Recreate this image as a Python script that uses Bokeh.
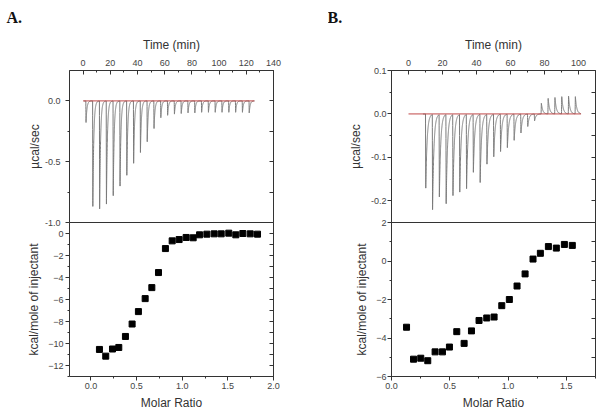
import numpy as np
from bokeh.plotting import figure
from bokeh.models import (LinearAxis, Range1d, SingleIntervalTicker, NumeralTickFormatter,
                          CustomLabelingPolicy)
from bokeh.layouts import row, column
from bokeh.embed import file_html
from bokeh.resources import INLINE

# ---------------- data ----------------
# Panel A: raw ITC trace (injection times in min, peak heights in ucal/sec)
a_inj_time = [2, 7, 12, 17, 22, 27, 32, 37, 42, 47, 52, 57, 62, 67, 72, 77, 82, 87,
              92, 97, 102, 107, 112, 117, 122]
a_peak = [-0.18, -0.88, -0.90, -0.86, -0.79, -0.71, -0.62, -0.52, -0.43, -0.34, -0.23,
          -0.14, -0.12, -0.11, -0.105, -0.10, -0.10, -0.095, -0.095, -0.095, -0.095,
          -0.095, -0.095, -0.095, -0.10]
a_trace_span = [0.5, 126]
a_baseline = [0, 126]
# Panel A: integrated heats
a_ratio = [0.093, 0.162, 0.236, 0.305, 0.378, 0.451, 0.52, 0.594, 0.667, 0.74, 0.816,
           0.89, 0.966, 1.043, 1.12, 1.19, 1.27, 1.35, 1.427, 1.51, 1.587, 1.664,
           1.745, 1.825]
a_heat = [-10.54, -11.15, -10.5, -10.36, -9.36, -8.23, -7.1, -5.92, -4.92, -3.55, -1.37,
          -0.67, -0.55, -0.36, -0.39, -0.12, -0.06, -0.03, -0.03, 0.03, -0.12, 0.0,
          -0.03, -0.06]

# Panel B: raw ITC trace
b_inj_time = [10, 14, 18, 22, 26, 30, 34, 38, 42, 46, 50, 54, 58, 62, 66, 70, 74, 78,
              82, 86, 90, 94, 98]
b_peak = [-0.173, -0.222, -0.192, -0.208, -0.189, -0.181, -0.173, -0.135, -0.159, -0.116,
          -0.099, -0.087, -0.078, -0.061, -0.044, -0.029, -0.016, 0.025, 0.036, 0.038,
          0.040, 0.041, 0.040]
b_trace_span = [8.5, 101.5]
b_baseline = [0, 101.5]
# Panel B: integrated heats
b_ratio = [0.129, 0.189, 0.251, 0.311, 0.374, 0.437, 0.497, 0.56, 0.623, 0.686, 0.751,
           0.817, 0.88, 0.946, 1.011, 1.077, 1.146, 1.214, 1.277, 1.346, 1.414, 1.483,
           1.551]
b_heat = [-3.44, -5.1, -5.05, -5.18, -4.72, -4.72, -4.47, -3.67, -4.28, -3.63, -3.09,
          -2.96, -2.91, -2.32, -2.0, -1.3, -0.67, 0.1, 0.4, 0.75, 0.67, 0.86, 0.81]

panel_names = ["A.", "B."]

SANS = "Liberation Sans"
INK = "#333333"
TICKC = "#444444"
TRACE = "#7a7a7a"
BASE = "#c04848"

HIDE = CustomLabelingPolicy(code="for (const i of Array.from(indices)) { indices.unset(i) } return indices")


def thermogram(span, inj_t, amp, rise, tau):
    t = np.arange(span[0], span[1], 0.02)
    y = np.zeros_like(t)
    for ti, a in zip(inj_t, amp):
        dt = t - ti
        r = (dt >= 0) & (dt < rise)
        y[r] += a * dt[r] / rise
        d = dt >= rise
        y[d] += a * np.exp(-(dt[d] - rise) / tau)
    return t, y


def fig(w, h, xr, yr, bl, br, bt, bb, transparent_border=False):
    p = figure(width=w, height=h, x_range=Range1d(*xr), y_range=Range1d(*yr),
               x_axis_location=None, y_axis_location=None,
               output_backend="svg", toolbar_location=None,
               min_border_left=bl, min_border_right=br,
               min_border_top=bt, min_border_bottom=bb)
    p.grid.visible = False
    p.outline_line_color = INK
    p.outline_line_width = 1
    p.background_fill_color = "white"
    p.border_fill_color = "white"
    if transparent_border:
        p.border_fill_alpha = 0
    return p


def heading(p, text, offset):
    p.title.text = text
    p.title.text_font = "Liberation Serif"
    p.title.text_font_size = "16px"
    p.title.text_font_style = "bold"
    p.title.text_color = "#111111"
    p.title.align = "left"
    p.title.offset = offset
    p.title.vertical_align = "top"
    p.title.standoff = 14


def axis(p, side, interval, minor, label=None, inside=False, fmt=None,
         standoff=5, label_standoff=5, show_labels=True, bounds=None):
    ax = LinearAxis(ticker=SingleIntervalTicker(interval=interval, num_minor_ticks=minor))
    ax.axis_line_color = None
    ax.major_tick_line_color = INK
    ax.minor_tick_line_color = INK
    if bounds is not None:
        ax.bounds = bounds
    if inside:
        ax.major_tick_in, ax.major_tick_out = 4, 0
        ax.minor_tick_in, ax.minor_tick_out = 2, 0
    else:
        ax.major_tick_in, ax.major_tick_out = 0, 4
        ax.minor_tick_in, ax.minor_tick_out = 0, 2
    if fmt is not None:
        ax.formatter = NumeralTickFormatter(format=fmt)
    ax.major_label_text_font = SANS
    ax.major_label_text_color = TICKC
    ax.major_label_standoff = standoff
    if show_labels:
        ax.major_label_text_font_size = "9px"
    else:
        ax.major_label_text_font_size = "1px"
        ax.major_label_standoff = 0
        ax.major_label_policy = HIDE
    if label:
        ax.axis_label = label
        ax.axis_label_text_font = SANS
        ax.axis_label_text_font_size = "12px"
        ax.axis_label_text_font_style = "normal"
        ax.axis_label_text_color = INK
        ax.axis_label_standoff = label_standoff
    p.add_layout(ax, side)
    return ax


# ---------------- Panel A ----------------
a_up = fig(328, 230, (-10, 140), (-1.0, 0.25), 69, 55, 70, 8)
axis(a_up, "above", 20, 2, "Time (min)", inside=True, standoff=5, label_standoff=5)
axis(a_up, "left", 0.5, 2, "µcal/sec", fmt="0.0", standoff=5, label_standoff=0,
     bounds=(-1.0, 0.11))
axis(a_up, "right", 0.25, 0, inside=True, show_labels=False)
heading(a_up, panel_names[0], -63)
ta, ya = thermogram(a_trace_span, a_inj_time, a_peak, 0.15, 0.7)
a_up.line(ta, ya, line_color=TRACE, line_width=1)
a_up.line(a_baseline, [0, 0], line_color=BASE, line_width=1)

a_low = fig(328, 199, (-0.235, 2.0), (-13, 1), 69, 55, 8, 37, transparent_border=True)
a_low.margin = (-16, 0, 0, 0)
axis(a_low, "below", 0.5, 2, "Molar Ratio", fmt="0.0", standoff=2, label_standoff=4)
axis(a_low, "left", 2, 2, "kcal/mole of injectant", standoff=2, label_standoff=4,
     bounds=(-13.64, 0))
axis(a_low, "right", 1, 0, inside=True, show_labels=False)
a_low.scatter(a_ratio, a_heat, marker="square", size=6, color="black")

# ---------------- Panel B ----------------
b_up = fig(276, 230, (-10, 110), (-0.25, 0.1), 63, 9, 70, 8)
axis(b_up, "above", 20, 2, "Time (min)", inside=True, standoff=5, label_standoff=5)
axis(b_up, "left", 0.1, 2, "µcal/sec", fmt="0.0", standoff=1, label_standoff=5,
     bounds=(-0.273, 0.1))
axis(b_up, "right", 0.05, 0, inside=True, show_labels=False)
heading(b_up, panel_names[1], -64)
tb, yb = thermogram(b_trace_span, b_inj_time, b_peak, 0.15, 0.8)
b_up.line(tb, yb, line_color=TRACE, line_width=1)
b_up.line(b_baseline, [0, 0], line_color=BASE, line_width=1)

b_low = fig(276, 199, (0, 1.75), (-6, 2), 63, 9, 8, 37, transparent_border=True)
b_low.margin = (-16, 0, 0, 0)
axis(b_low, "below", 0.5, 2, "Molar Ratio", fmt="0.0", standoff=2, label_standoff=4)
axis(b_low, "left", 2, 2, "kcal/mole of injectant", standoff=1, label_standoff=4,
     bounds=(-6.95, 2))
axis(b_low, "right", 1, 0, inside=True, show_labels=False)
b_low.scatter(b_ratio, b_heat, marker="square", size=6, color="black")

layout = row(column(a_up, a_low), column(b_up, b_low))

with open("out.html", "w") as f:
    f.write(file_html(layout, INLINE))
